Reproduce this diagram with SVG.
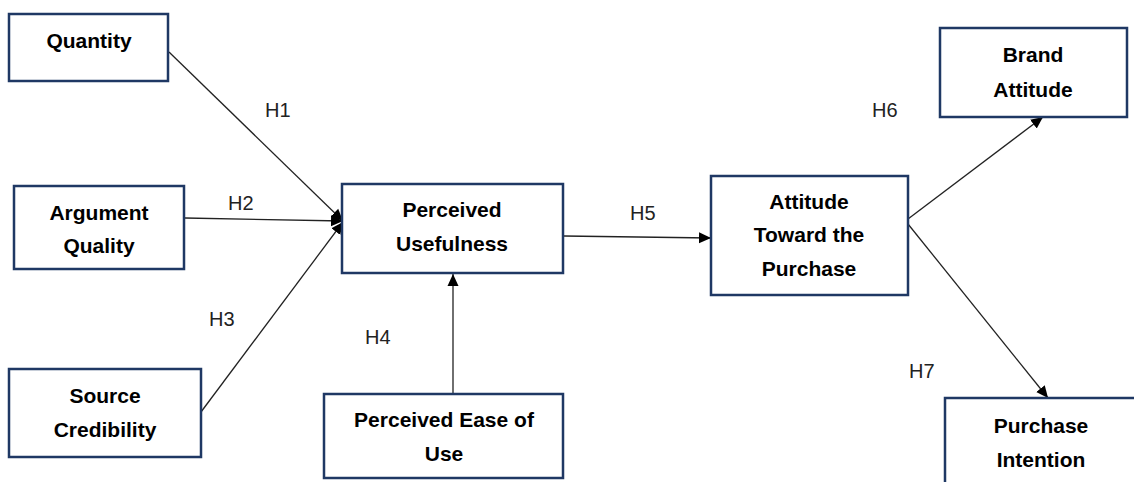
<svg xmlns="http://www.w3.org/2000/svg" width="1134" height="482" viewBox="0 0 1134 482">
<style>
.box{fill:#fff;stroke:#1f3864;stroke-width:2.5}
.t{font-family:"Liberation Sans",Arial,sans-serif;font-weight:bold;font-size:21px;fill:#000;text-anchor:middle}
.h{font-family:"Liberation Sans",Arial,sans-serif;font-size:20px;fill:#222}
.c{stroke:#222;stroke-width:1.3;fill:none;marker-end:url(#arr)}
</style>
<defs>
<marker id="arr" markerWidth="12" markerHeight="12" viewBox="0 0 12 12" refX="12" refY="6" orient="auto" markerUnits="userSpaceOnUse">
<path d="M0,0.5 L12,6 L0,11.5 Z" fill="#000"/>
</marker>
</defs>
<rect width="1134" height="482" fill="#fff"/>
<g id="connectors">
<line class="c" x1="169" y1="52" x2="343" y2="221"/>
<line class="c" x1="185" y1="218" x2="343" y2="221"/>
<line class="c" x1="201" y1="412" x2="343" y2="222"/>
<line class="c" x1="453" y1="394" x2="453" y2="274"/>
<line class="c" x1="564" y1="236" x2="711" y2="238"/>
<line class="c" x1="908" y1="219" x2="1043" y2="117"/>
<line class="c" x1="908" y1="224" x2="1048" y2="398"/>
</g>
<g id="labels">
<text class="h" x="265" y="117">H1</text>
<text class="h" x="228" y="210">H2</text>
<text class="h" x="209" y="326">H3</text>
<text class="h" x="365" y="344">H4</text>
<text class="h" x="630" y="220">H5</text>
<text class="h" x="872" y="117">H6</text>
<text class="h" x="909" y="378">H7</text>
</g>
<g id="quantity">
<rect class="box" x="9" y="14" width="159" height="67"/>
<text class="t" x="89" y="48">Quantity</text>
</g>
<g id="argument-quality">
<rect class="box" x="14" y="186" width="170" height="83"/>
<text class="t" x="99" y="220">Argument</text>
<text class="t" x="99" y="253">Quality</text>
</g>
<g id="source-credibility">
<rect class="box" x="9" y="369" width="192" height="88"/>
<text class="t" x="105" y="403">Source</text>
<text class="t" x="105" y="437">Credibility</text>
</g>
<g id="perceived-usefulness">
<rect class="box" x="342" y="184" width="221" height="89"/>
<text class="t" x="452" y="217">Perceived</text>
<text class="t" x="452" y="251">Usefulness</text>
</g>
<g id="perceived-ease-of-use">
<rect class="box" x="324" y="394" width="239" height="84"/>
<text class="t" x="444" y="427">Perceived Ease of</text>
<text class="t" x="444" y="461">Use</text>
</g>
<g id="attitude-toward-purchase">
<rect class="box" x="711" y="176" width="197" height="119"/>
<text class="t" x="809" y="209">Attitude</text>
<text class="t" x="809" y="242">Toward the</text>
<text class="t" x="809" y="276">Purchase</text>
</g>
<g id="brand-attitude">
<rect class="box" x="940" y="28" width="187" height="89"/>
<text class="t" x="1033" y="62">Brand</text>
<text class="t" x="1033" y="97">Attitude</text>
</g>
<g id="purchase-intention">
<rect class="box" x="945" y="398" width="195" height="95"/>
<text class="t" x="1041" y="433">Purchase</text>
<text class="t" x="1041" y="467">Intention</text>
</g>
</svg>
